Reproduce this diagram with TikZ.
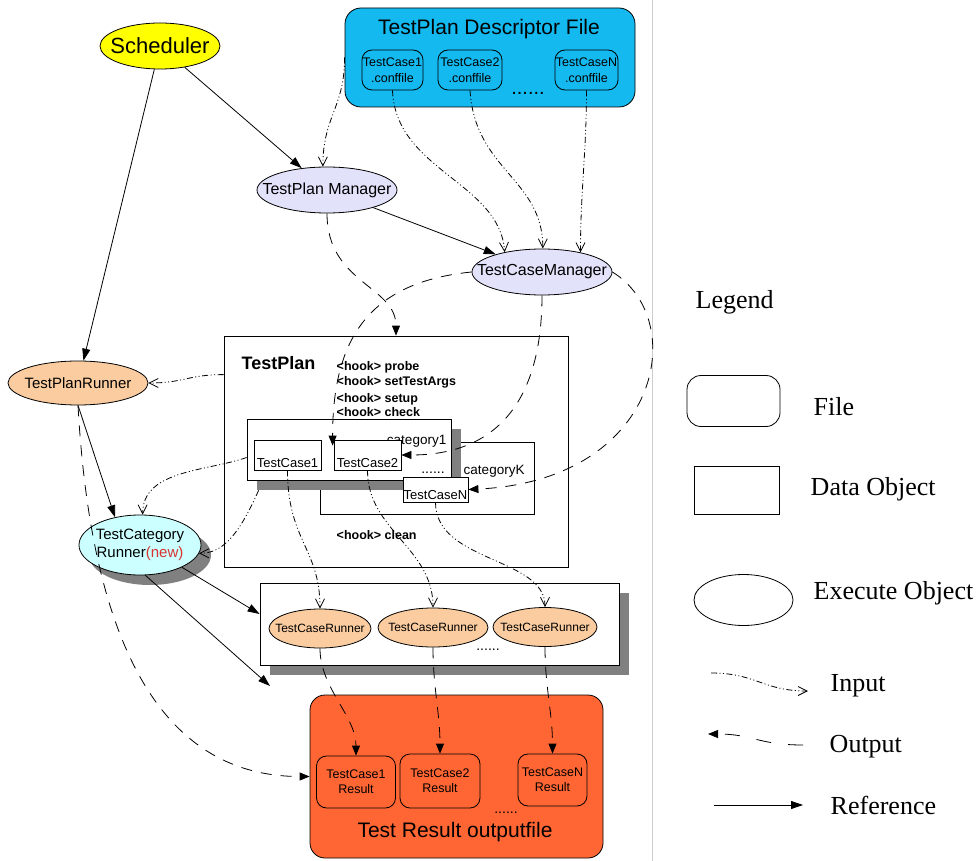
\documentclass[tikz,border=0pt]{standalone}
\usepackage{fontspec}
\setmainfont{Liberation Sans}
\newfontfamily\legendfont{Liberation Serif}
\usetikzlibrary{shapes.geometric,arrows.meta,shadows,calc}
\definecolor{descblue}{RGB}{20,185,240}
\definecolor{schedyellow}{RGB}{255,255,0}
\definecolor{mgrlilac}{RGB}{226,226,250}
\definecolor{runpeach}{RGB}{250,204,160}
\definecolor{catcyan}{RGB}{204,255,255}
\definecolor{resorange}{RGB}{255,102,51}
\definecolor{shadegray}{RGB}{128,128,128}
\definecolor{sepgray}{RGB}{205,205,205}
\definecolor{newred}{RGB}{215,50,50}
\newcommand{\fsz}[2]{\fontsize{#1}{#2}\selectfont}

\begin{document}
\begin{tikzpicture}[x=1pt,y=-1pt,line width=0.8pt,
  exec/.style={ellipse,draw,inner xsep=-20pt,inner ysep=0pt,align=center},
  filebox/.style={rectangle,draw,rounded corners=10pt,inner sep=0pt,align=center},
  dataobj/.style={rectangle,draw,fill=white,inner sep=0pt},
  tcbox/.style={dataobj,text height=25pt,text depth=1pt,inner ysep=2pt,minimum width=67pt,font=\fsz{13}{13}},
  grayshade/.style={general shadow={fill=shadegray,shadow xshift=10pt,shadow yshift=-10pt}},
  inp/.style={dash pattern=on 6pt off 2.5pt on 1pt off 2.5pt on 1pt off 2.5pt,-{Straight Barb[length=9pt,width=9pt]}},
  outp/.style={dash pattern=on 11pt off 9pt,-{Triangle[length=10pt,width=8pt]}},
  refl/.style={-{Triangle[length=12pt,width=8pt]}}]
\tikzstyle{legtext}=[anchor=base west,font=\legendfont\fsz{26}{26}]
\useasboundingbox (0,0) rectangle (980,861);
\draw[sepgray] (652,0) -- (652,861);

\node[filebox,fill=descblue,rounded corners=16pt,minimum width=290pt,minimum height=99pt] (desc) at (490,57.5) {};
\node[anchor=base,font=\fsz{21}{21}] (desctitle) at (489,35) {TestPlan Descriptor File};
\node[filebox,minimum width=61pt,minimum height=40pt,font=\fsz{12.5}{16}] (cf1) at (392.5,70) {TestCase1\\.conffile};
\node[filebox,minimum width=64pt,minimum height=40pt,font=\fsz{12.5}{16}] (cf2) at (470,70) {TestCase2\\.conffile};
\node[filebox,minimum width=63pt,minimum height=40pt,font=\fsz{12.5}{16}] (cfN) at (586.5,70) {TestCaseN\\.conffile};
\node[anchor=base,font=\fsz{20}{20}] (descdots) at (528,95) {......};

\node[exec,fill=schedyellow,minimum width=120pt,minimum height=46pt,font=\fsz{22}{22}] (sched) at (160,46) {Scheduler};
\node[exec,fill=mgrlilac,minimum width=140pt,minimum height=46pt,font=\fsz{16}{16}] (tpm) at (327,190) {TestPlan Manager};
\node[exec,fill=mgrlilac,minimum width=140pt,minimum height=46pt,font=\fsz{16}{16}] (tcm) at (542,272) {TestCaseManager};
\node[exec,fill=runpeach,minimum width=140pt,minimum height=44pt,font=\fsz{15}{15}] (tpr) at (78,383) {TestPlanRunner};
\node[exec,fill=catcyan,grayshade,minimum width=122pt,minimum height=60pt,font=\fsz{15}{18}] (tcr) at (140,545) {TestCategory\\Runner\textcolor{newred}{(new)}};

\node[dataobj,minimum width=344pt,minimum height=231pt] (tplan) at (396,451.5) {};
\node[anchor=base west,font=\bfseries\fsz{18}{18}] (tplanlbl) at (238,369) {TestPlan};
\foreach \hk/\hy in {probe/370,setTestArgs/385,setup/402,check/416,clean/539}
  \node[anchor=base west,font=\bfseries\fsz{12.5}{12.5}] (hook-\hk) at (333,\hy) {<hook> \hk};
\node[dataobj,minimum width=214pt,minimum height=72pt] (catK) at (427,478) {};
\node[anchor=base west,font=\fsz{13.5}{13.5}] (catKlbl) at (460,474) {categoryK};
\node[dataobj,grayshade,minimum width=204pt,minimum height=61pt] (cat1) at (349,449.5) {};
\node[anchor=base east,font=\fsz{13.5}{13.5}] (cat1lbl) at (450,444) {category1};
\node[anchor=base,font=\fsz{14}{14}] (catdots) at (433,473) {......};
\node[tcbox] (tc1) at (287.5,455) {TestCase1};
\node[tcbox] (tc2) at (367.5,455) {TestCase2};
\node[tcbox,text height=21pt,inner ysep=1.5pt,minimum width=65pt] (tcN) at (435.5,489.5) {TestCaseN};

\node[dataobj,grayshade,minimum width=359pt,minimum height=82pt] (crun) at (439.5,624) {};
\node[exec,fill=runpeach,minimum width=102pt,minimum height=39pt,font=\fsz{12}{12}] (tcr1) at (320,628.5) {TestCaseRunner};
\node[exec,fill=runpeach,minimum width=110pt,minimum height=39pt,font=\fsz{12}{12}] (tcr2) at (433,627.5) {TestCaseRunner};
\node[exec,fill=runpeach,minimum width=104pt,minimum height=39pt,font=\fsz{12}{12}] (tcr3) at (545,627) {TestCaseRunner};
\node[anchor=base,font=\fsz{14}{14}] (rundots) at (488,650) {......};
\coordinate (runend) at (270,686);

\node[filebox,fill=resorange,rounded corners=15pt,minimum width=293pt,minimum height=163pt] (res) at (456.5,776.5) {};
\node[anchor=base,font=\fsz{21}{21}] (restitle) at (455,837) {Test Result outputfile};
\node[filebox,minimum width=79pt,minimum height=52pt,font=\fsz{12.5}{15}] (res1) at (356,782) {TestCase1\\Result};
\node[filebox,minimum width=80pt,minimum height=54pt,font=\fsz{12.5}{15}] (res2) at (440,781) {TestCase2\\Result};
\node[filebox,minimum width=69pt,minimum height=52pt,font=\fsz{12.5}{15}] (resN) at (552.5,780) {TestCaseN\\Result};
\node[anchor=base,font=\fsz{14}{14}] (resdots) at (506,813) {......};

\draw[inp] (cf1.south) .. controls +(3,80) and +(-5,-70) .. (tcm.152);
\draw[inp] (cf2.south) .. controls +(5,80) and +(0,-70) .. (tcm.88);
\draw[inp] (cfN.south) .. controls +(0,60) and +(0,-60) .. (tcm.27);
\draw[inp] (desc.west) .. controls +(0,50) and +(0,-50) .. (tpm.100);
\draw[inp] ($(tplan.north west)+(0,39)$) .. controls +(-35,0) and +(35,0) .. (tpr.east);
\draw[inp] ($(cat1.west)+(0,8)$) .. controls +(-40,14) and +(0,-45) .. (tcr.85);
\draw[inp] ($(cat1.south west)+(12,10)$) .. controls +(-18,40) and +(26,0) .. (tcr.-8);
\draw[inp] (tc1.south) .. controls +(0,70) and +(0,-60) .. (tcr1.north);
\draw[inp] (tc2.south) .. controls +(0,60) and +(0,-60) .. (tcr2.north);
\draw[inp] (tcN.south) .. controls +(0,60) and +(0,-50) .. (tcr3.north);

\draw[outp] (tpm.south) .. controls +(0,70) and +(0,-50) .. (tplan.north);
\draw[outp] (tcm.west) .. controls +(-100,10) and +(0,-110) .. ($(tc2.north west)+(-1,6)$);
\draw[outp] (tcm.south) .. controls +(0,100) and +(100,0) .. (tc2.east);
\draw[outp] (tcm.east) .. controls +(78,48) and +(192,-9) .. (tcN.east);
\draw[outp] (tpr.south) .. controls +(12,215) and +(-160,0) .. (res.west);
\draw[outp] (tcr1.south) .. controls +(0,40) and +(0,-40) .. (res1.north);
\draw[outp] (tcr2.south) .. controls +(0,40) and +(0,-40) .. (res2.north);
\draw[outp] (tcr3.south) .. controls +(0,40) and +(0,-40) .. (resN.north);

\draw[refl] (sched) -- (tpr);
\draw[refl] (sched) -- (tpm);
\draw[refl] (tpm) -- (tcm);
\draw[refl] (tpr.south) -- (tcr.132);
\draw[refl] (tcr.-28) -- ($(crun.west)+(0,-10)$);
\draw[refl] (tcr.-80) -- (runend);

\node[legtext] (legtitle) at (692,308) {Legend};
\node[filebox,rounded corners=14pt,minimum width=93pt,minimum height=51pt] (legfile) at (733.5,401) {};
\node[legtext] (legfiletxt) at (810,415) {File};
\node[dataobj,minimum width=85pt,minimum height=48pt] (legdata) at (736.5,490.5) {};
\node[legtext] (legdatatxt) at (807,495) {Data Object};
\node[exec,minimum width=99pt,minimum height=51pt] (legexec) at (743.5,600) {};
\node[legtext] (legexectxt) at (810,599) {Execute Object};
\coordinate (legin1) at (711,673);
\coordinate (legin2) at (808,691);
\coordinate (legout1) at (803,745);
\coordinate (legout2) at (708,734);
\coordinate (legref1) at (714,805);
\coordinate (legref2) at (803,805);
\draw[inp] (legin1) .. controls +(45,0) and +(-45,0) .. (legin2);
\node[legtext] (legintxt) at (827,691) {Input};
\draw[outp,dash pattern=on 15pt off 17pt] (legout1) .. controls +(-45,0) and +(45,0) .. (legout2);
\node[legtext] (legouttxt) at (826,752) {Output};
\draw[refl] (legref1) -- (legref2);
\node[legtext] (legreftxt) at (827,814) {Reference};
\end{tikzpicture}
\end{document}
